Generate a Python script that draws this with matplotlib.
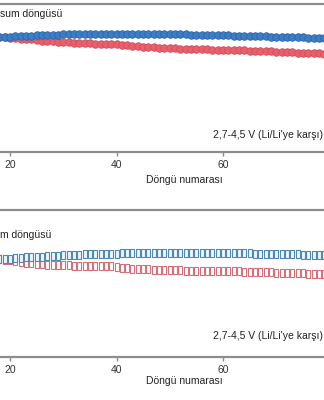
import matplotlib
matplotlib.use("Agg")
import matplotlib.pyplot as plt
from matplotlib.path import Path

plt.rcParams['font.family'] = ['Liberation Sans', 'DejaVu Sans']

cycles = list(range(18, 80))

top_blue = [96.6, 96.7, 96.8, 96.9, 97.0, 97.1, 97.2, 97.3, 97.4, 97.5,
            97.55, 97.6, 97.7, 97.7, 97.8, 97.8, 97.9, 97.9, 97.95, 98.0,
            98.0, 98.0, 98.0, 98.0, 97.95, 97.95, 97.9, 97.9, 97.9, 97.85,
            97.85, 97.8, 97.8, 97.75, 97.7, 97.7, 97.6, 97.6, 97.5, 97.5,
            97.4, 97.4, 97.3, 97.3, 97.2, 97.1, 97.05, 97.0, 96.95, 96.9,
            96.85, 96.8, 96.7, 96.7, 96.6, 96.55, 96.5, 96.45, 96.4, 96.35,
            96.3, 96.2]
top_red = [96.6, 96.5, 96.4, 96.2, 96.0, 95.8, 95.7, 95.4, 95.2, 95.0,
           94.8, 94.6, 94.5, 94.4, 94.3, 94.2, 94.1, 94.0, 93.95, 93.9,
           93.8, 93.7, 93.6, 93.4, 93.3, 93.1, 92.9, 92.7, 92.55, 92.4,
           92.2, 92.1, 92.0, 92.0, 91.9, 91.85, 91.8, 91.7, 91.65, 91.6,
           91.55, 91.5, 91.45, 91.4, 91.35, 91.3, 91.2, 91.1, 91.0, 90.9,
           90.85, 90.75, 90.65, 90.55, 90.45, 90.35, 90.3, 90.2, 90.1, 90.0,
           89.95, 89.85]
bot_blue = [89.9, 90.1, 90.2, 90.4, 90.5, 90.7, 90.8, 90.9, 91.0, 91.2,
            91.3, 91.4, 91.5, 91.6, 91.7, 91.8, 91.9, 91.95, 92.0, 92.05,
            92.1, 92.15, 92.2, 92.25, 92.3, 92.3, 92.3, 92.35, 92.35, 92.35,
            92.35, 92.4, 92.4, 92.4, 92.4, 92.35, 92.35, 92.4, 92.35, 92.3,
            92.35, 92.3, 92.3, 92.3, 92.3, 92.3, 92.3, 92.25, 92.2, 92.2,
            92.1, 92.1, 92.0, 92.0, 91.95, 91.9, 91.85, 91.8, 91.75, 91.7,
            91.65, 91.6]
bot_red = [90.0, 89.7, 89.4, 89.1, 88.8, 88.5, 88.25, 88.0, 87.8, 87.6,
           87.5, 87.45, 87.4, 87.35, 87.3, 87.3, 87.25, 87.2, 87.2, 87.15,
           87.1, 87.0, 86.8, 86.5, 86.3, 86.1, 86.0, 85.9, 85.8, 85.6,
           85.5, 85.45, 85.4, 85.4, 85.35, 85.3, 85.3, 85.25, 85.2, 85.15,
           85.1, 85.05, 85.0, 85.0, 84.95, 84.9, 84.8, 84.75, 84.7, 84.6,
           84.55, 84.5, 84.4, 84.3, 84.25, 84.2, 84.15, 84.1, 84.05, 84.0,
           83.95, 83.9]

xticks = [20, 40, 60]
xlabel = "Döngü numarası"
voltage_note = "2,7-4,5 V (Li/Li'ye karşı)"
top_title = "sum döngüsü"
bottom_title = "m döngüsü"

W, H = 324, 400
fig = plt.figure(figsize=(W / 100, H / 100), dpi=100)

rect_marker = Path([(-0.28, -0.5), (0.28, -0.5), (0.28, 0.5), (-0.28, 0.5), (-0.28, -0.5)],
                   [Path.MOVETO, Path.LINETO, Path.LINETO, Path.LINETO, Path.CLOSEPOLY])

def setup(ax):
    ax.set_xlim(18.12, 78.97)
    ax.set_ylim(50, 110)
    for s in ['left', 'right']:
        ax.spines[s].set_visible(False)
    for s in ['top', 'bottom']:
        ax.spines[s].set_color('#8c8c8c')
        ax.spines[s].set_linewidth(1.6)
    ax.set_yticks([])
    ax.set_xticks(xticks)
    ax.tick_params(axis='x', direction='out', length=3, width=1, color='#8c8c8c',
                   labelsize=7.5, labelcolor='#333333', pad=2.5)

# top panel (px 4 -> 152)
ax1 = fig.add_axes([0, (H - 152) / H, 1, 148 / H])
setup(ax1)
ax1.plot(cycles, top_red, 'o', ms=5.4, mfc='#e8606b', mec='#d44d58', mew=0.6, clip_on=True)
ax1.plot(cycles, top_blue, 'o', ms=5.4, mfc='#3c7ec6', mec='#2a64aa', mew=0.6, clip_on=True)

# bottom panel (px 210 -> 357)
ax2 = fig.add_axes([0, (H - 357) / H, 1, 147 / H])
setup(ax2)
ax2.plot(cycles, bot_red, ls='none', marker=rect_marker, ms=6.2, mfc='white', mec='#d6707a', mew=0.8)
ax2.plot(cycles, bot_blue, ls='none', marker=rect_marker, ms=6.2, mfc='#eef6fb', mec='#5289b0', mew=0.8)

txt = dict(fontsize=7.5, color='#222222', va='center')
fig.text(0.5 / W, 1 - 14 / H, top_title, ha='left', **txt)
fig.text(0.5 / W, 1 - 235 / H, bottom_title, ha='left', **txt)
fig.text(213 / W, 1 - 135 / H, voltage_note, ha='left', **txt)
fig.text(213 / W, 1 - 336 / H, voltage_note, ha='left', **txt)
fig.text(184.5 / W, 1 - 180 / H, xlabel, ha='center', **txt)
fig.text(184.5 / W, 1 - 381 / H, xlabel, ha='center', **txt)

fig.savefig("out.png", dpi=100)
